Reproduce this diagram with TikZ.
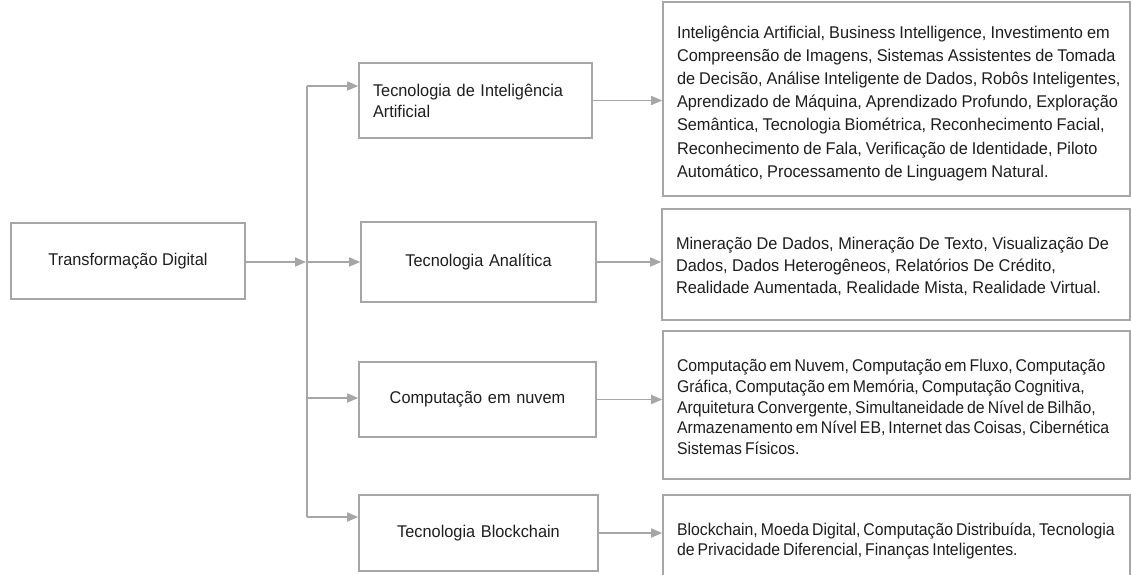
\documentclass[tikz,border=0pt]{standalone}
\usepackage{fontspec}
\setmainfont[FakeStretch=0.96]{Liberation Sans}
\newfontfamily\narrowsans[FakeStretch=0.93]{Liberation Sans}
\usetikzlibrary{arrows.meta}
\definecolor{edgegray}{HTML}{A6A6A6}
\definecolor{inkcol}{HTML}{1E1E1E}
% #1 = downward nudge of the text block, #2 = word space, #3 = lines
\newcommand{\itemlines}[3]{{\spaceskip=#2 plus 1pt\relax
  \raisebox{-#1}[\height][\depth]{\begin{tabular}{@{}l@{}}#3\end{tabular}}}}
\begin{document}
\begin{tikzpicture}[x=1pt,y=-1pt,
  box/.style={draw=edgegray, line width=1.6pt, text=inkcol, inner sep=0pt},
  midbox/.style={box, minimum height=75pt, text width=206pt, inner xsep=14pt, align=center,
    font=\fontsize{17}{21}\selectfont},
  listbox/.style={box, text width=439pt, inner xsep=14pt, align=left},
  link/.style={draw=edgegray, line width=1.6pt},
  arr/.style={link, -{Triangle[length=11pt,width=9pt]}, color=edgegray}
]
\useasboundingbox (0,0) rectangle (1131,574);

% source box
\node[box, minimum width=234pt, minimum height=76pt, font=\fontsize{17}{21}\selectfont]
  (td) at (128,261) {Transformação Digital};

% technology boxes
\node[midbox, align=left, text width=205pt] (ai) at (475.5,100.5)
  {Tecnologia de Inteligência\\Artificial};
\node[midbox, minimum height=80pt, text width=207pt] (an) at (478.5,262) {Tecnologia Analítica};
\node[midbox, text width=209pt] (cn) at (477.5,399.5) {Computação em nuvem};
\node[midbox, minimum height=76pt, text width=211pt] (bc) at (478.5,533) {Tecnologia Blockchain};

% detail boxes
\node[listbox, minimum height=194pt, font=\fontsize{17}{23.2}\selectfont] (rai) at (896.5,99)
  {\itemlines{4pt}{4pt}{Inteligência Artificial, Business Intelligence, Investimento em\\
   Compreensão de Imagens, Sistemas Assistentes de Tomada\\
   de Decisão, Análise Inteligente de Dados, Robôs Inteligentes,\\
   Aprendizado de Máquina, Aprendizado Profundo, Exploração\\
   Semântica, Tecnologia Biométrica, Reconhecimento Facial,\\
   Reconhecimento de Fala, Verificação de Identidade, Piloto\\
   Automático, Processamento de Linguagem Natural.}};
\node[listbox, minimum height=111pt, text width=440pt, font=\fontsize{17}{22}\selectfont] (ran) at (896,264.5)
  {\itemlines{2.5pt}{4.5pt}{Mineração De Dados, Mineração De Texto, Visualização De\\
   Dados, Dados Heterogêneos, Relatórios De Crédito,\\
   Realidade Aumentada, Realidade Mista, Realidade Virtual.}};
\node[listbox, minimum height=148pt, font=\narrowsans\fontsize{17}{20.7}\selectfont] (rcn) at (896.5,405)
  {\itemlines{4pt}{3pt}{Computação em Nuvem, Computação em Fluxo, Computação\\
   Gráfica, Computação em Memória, Computação Cognitiva,\\
   Arquitetura Convergente, Simultaneidade de Nível de Bilhão,\\
   Armazenamento em Nível EB, Internet das Coisas, Cibernética\\
   Sistemas Físicos.}};
\node[listbox, minimum height=88pt, font=\narrowsans\fontsize{17}{20}\selectfont] (rbc) at (896.5,539)
  {\itemlines{2.5pt}{3pt}{Blockchain, Moeda Digital, Computação Distribuída, Tecnologia\\
   de Privacidade Diferencial, Finanças Inteligentes.}};

% distribution bus
\coordinate (bustop) at (307,86);
\coordinate (busmid) at (307,262);
\coordinate (buscn) at (307,398);
\coordinate (busbot) at (307,517);
\coordinate (busin) at (306,262);

\draw[link] (bustop) -- (busbot);
\draw[arr] (td.east |- busin) -- (busin);
\draw[arr] (bustop) -- (bustop -| ai.west);
\draw[arr] (busmid) -- (busmid -| an.west);
\draw[arr] (buscn) -- (buscn -| cn.west);
\draw[arr] (busbot) -- (busbot -| bc.west);

% links to detail boxes
\draw[arr] (ai.east) -- (ai.east -| rai.west);
\draw[arr] (an.east) -- (an.east -| ran.west);
\draw[arr] (cn.east) -- (cn.east -| rcn.west);
\draw[arr] (bc.east) -- (bc.east -| rbc.west);
\end{tikzpicture}
\end{document}
